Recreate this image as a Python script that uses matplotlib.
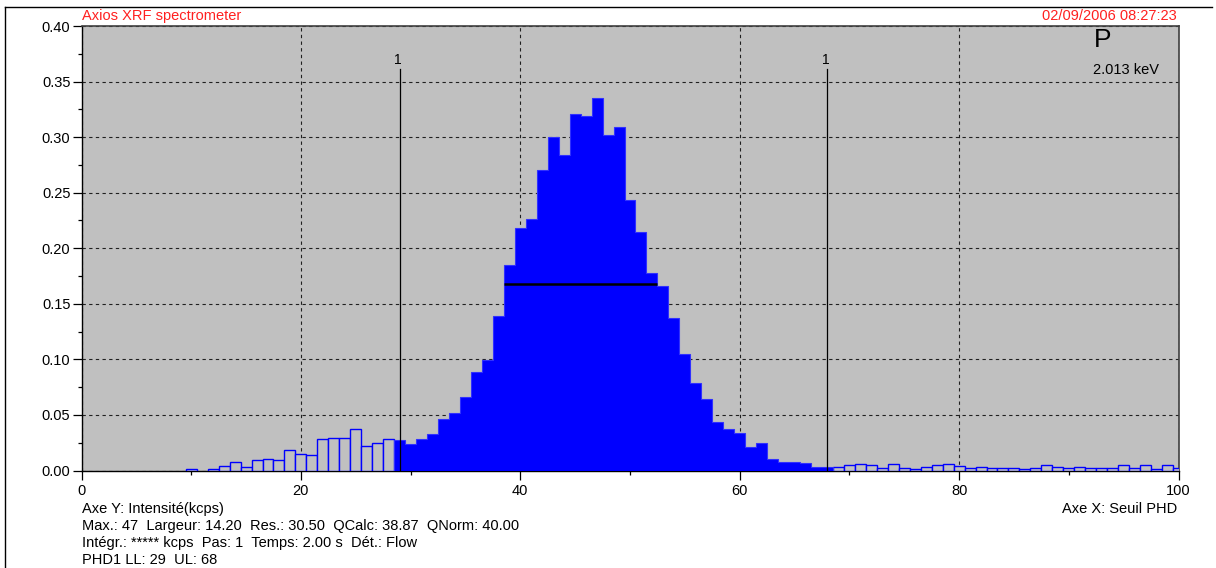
import numpy as np
import matplotlib
matplotlib.use("Agg")
import matplotlib.pyplot as plt
from matplotlib.ticker import MultipleLocator, FormatStrFormatter
from matplotlib.lines import Line2D

plt.rcParams['font.family'] = ['Liberation Sans', 'DejaVu Sans']

# ---------------- data ----------------
channels = list(range(0, 101))
intensity = [
    0, 0, 0, 0, 0, 0, 0, 0, 0, 0,                                   # 0-9
    0.001, 0, 0.001, 0.004, 0.0077, 0.003, 0.0095, 0.0106, 0.0095, 0.018,   # 10-19
    0.015, 0.0137, 0.028, 0.029, 0.029, 0.0377, 0.0224, 0.0248, 0.028, 0.027,  # 20-29
    0.024, 0.028, 0.0326, 0.0467, 0.052, 0.066, 0.0887, 0.0998, 0.139, 0.185,  # 30-39
    0.2185, 0.2263, 0.2705, 0.300, 0.2836, 0.321, 0.319, 0.335, 0.302, 0.309,  # 40-49
    0.243, 0.2146, 0.178, 0.166, 0.137, 0.105, 0.0785, 0.0644, 0.0437, 0.0371, # 50-59
    0.034, 0.0209, 0.025, 0.0106, 0.0077, 0.0077, 0.0065, 0.003, 0.003, 0.0034, # 60-69
    0.0047, 0.006, 0.0047, 0.0026, 0.0057, 0.0026, 0.001, 0.0034, 0.0047, 0.006, # 70-79
    0.0037, 0.0026, 0.0034, 0.0023, 0.0023, 0.0023, 0.0014, 0.0026, 0.0047, 0.0034, # 80-89
    0.0023, 0.0034, 0.0023, 0.0023, 0.0023, 0.0047, 0.0023, 0.0047, 0.0016, 0.0047, # 90-99
    0.0023,                                                            # 100
]
phd_ll = 29
phd_ul = 68
marker_top = 0.361
marker_label = "1"
fwhm_level = 0.168
fwhm_left = 38.5
fwhm_right = 52.5

x_ticks = [0, 20, 40, 60, 80, 100]
title_left = "Axios XRF spectrometer"
title_right = "02/09/2006 08:27:23"
element = "P"
energy = "2.013 keV"
footer_lines = [
    "Axe Y: Intensité(kcps)",
    "Max.: 47  Largeur: 14.20  Res.: 30.50  QCalc: 38.87  QNorm: 40.00",
    "Intégr.: ***** kcps  Pas: 1  Temps: 2.00 s  Dét.: Flow",
    "PHD1 LL: 29  UL: 68",
]
x_axis_note = "Axe X: Seuil PHD"

# ---------------- figure ----------------
W, H = 1216, 568
fig = plt.figure(figsize=(W / 100, H / 100), dpi=100)
fig.patch.set_facecolor("white")

ax_l, ax_r, ax_t, ax_b = 81.5, 1178.5, 26, 470.5
ax = fig.add_axes([ax_l / W, 1 - ax_b / H, (ax_r - ax_l) / W, (ax_b - ax_t) / H])
ax.set_facecolor("#C0C0C0")
ax.set_xlim(0, 100)
ax.set_ylim(0, 0.40)

blue = "#0000FF"
ch = np.array(channels)
val = np.array(intensity)
inside = (ch >= phd_ll) & (ch <= phd_ul)

# outlined bars outside the window
mask_out = (~inside) & (val > 0)
ax.bar(ch[mask_out], val[mask_out], width=1.0, facecolor="#C0C0C0",
       edgecolor=blue, linewidth=1.0, zorder=3, clip_on=True)

# filled bars inside the window
edges = np.append(ch[inside] - 0.5, ch[inside][-1] + 0.5)
ax.stairs(val[inside], edges, fill=True, facecolor=blue, edgecolor="#3030FF",
          linewidth=0.8, zorder=3)

# FWHM line
ax.plot([fwhm_left, fwhm_right], [fwhm_level, fwhm_level], color="black",
        lw=1.8, zorder=5, solid_capstyle="butt")

# PHD window lines
for xv in (phd_ll, phd_ul):
    ax.plot([xv, xv], [0, marker_top], color="black", lw=0.9, zorder=5)
    ax.text(xv - 0.15, marker_top + 0.0025, marker_label, ha="center", va="bottom",
            fontsize=10, color="black", zorder=6)

# grid
ax.grid(True, which="major", color="#202020", linestyle=(0, (3, 3)), lw=0.8, zorder=1)
ax.set_axisbelow(True)

# ticks
ax.set_xticks(x_ticks)
ax.xaxis.set_minor_locator(MultipleLocator(10))
ax.yaxis.set_major_locator(MultipleLocator(0.05))
ax.yaxis.set_minor_locator(MultipleLocator(0.025))
ax.yaxis.set_major_formatter(FormatStrFormatter("%.2f"))
ax.tick_params(which="major", direction="out", length=6.5, width=0.9, color="black",
               labelsize=10.5, pad=1.5)
ax.tick_params(which="minor", direction="out", length=3, width=0.9, color="black")
ax.tick_params(axis="x", pad=3.5)

for s in ("left", "bottom"):
    ax.spines[s].set_color("black")
    ax.spines[s].set_linewidth(1.0)
for s in ("top", "right"):
    ax.spines[s].set_color("#404040")
    ax.spines[s].set_linewidth(1.2)

# annotations inside plot
fig.text(1103 / W, 1 - 40 / H, element, fontsize=19, ha="center", va="center")
fig.text(1093 / W, 1 - 70 / H, energy, fontsize=10.5, ha="left", va="center")

# titles
fig.text(ax_l / W, 1 - 16 / H, title_left, color="#FF2020", fontsize=10.5,
         ha="left", va="center")
fig.text(1177 / W, 1 - 16 / H, title_right, color="#FF2020", fontsize=10.5,
         ha="right", va="center")

# footer
ys = [509, 526, 543, 560]
for t, yy in zip(footer_lines, ys):
    fig.text(82 / W, 1 - yy / H, t, fontsize=10.5, ha="left", va="center")
fig.text(1177 / W, 1 - 509 / H, x_axis_note, fontsize=10.5, ha="right", va="center")

# outer frame (left and top edges)
fig.add_artist(Line2D([5 / W, 5 / W], [0, 1 - 7 / H], transform=fig.transFigure,
                      color="black", lw=1.0))
fig.add_artist(Line2D([5 / W, 1212 / W], [1 - 7 / H, 1 - 7 / H], transform=fig.transFigure,
                      color="black", lw=1.0))

fig.savefig("out.png", dpi=100)
